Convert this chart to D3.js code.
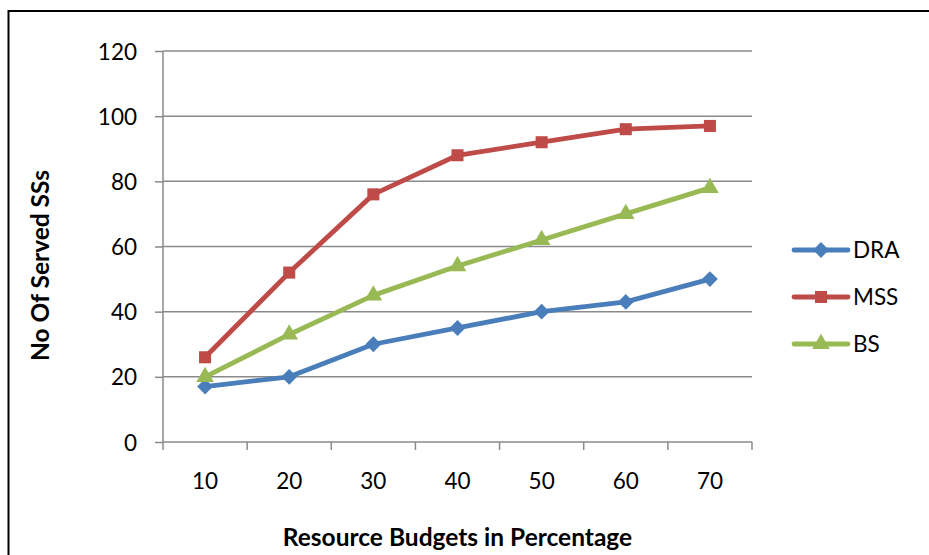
<!DOCTYPE html>
<html>
<head>
<meta charset="utf-8">
<script src="https://cdn.jsdelivr.net/npm/d3@7"></script>
<style>
  body { margin: 0; background: #fff; }
  svg text { font-family: Lato, "Open Sans", sans-serif; fill: #000; }
</style>
</head>
<body>
<div id="app"></div>
<script>
`use strict`;

const budgets = [10, 20, 30, 40, 50, 60, 70];
const yTicks = [0, 20, 40, 60, 80, 100, 120];

const dra = [17, 20, 30, 35, 40, 43, 50];
const mss = [26, 52, 76, 88, 92, 96, 97];
const bs = [20, 33, 45, 54, 62, 70, 78];

const seriesNames = [`DRA`, `MSS`, `BS`];

const W = 929, H = 555;
const plot = {left: 163, right: 752, top: 51, bottom: 442};

const series = [
  {name: seriesNames[0], values: dra, color: `#4A7EBB`, shape: d3.symbolDiamond2 || d3.symbolDiamond, size: 160},
  {name: seriesNames[1], values: mss, color: `#BE4B48`, shape: d3.symbolSquare, size: 145},
  {name: seriesNames[2], values: bs, color: `#98B954`, shape: d3.symbolTriangle, size: 135}
];

let svg = d3.select(`#app`).append(`svg`).attr(`width`, W).attr(`height`, H);

// frame
svg.append(`rect`).attr(`x`, 8.5).attr(`y`, 11).attr(`width`, W + 20).attr(`height`, H + 20)
  .attr(`fill`, `none`).attr(`stroke`, `#000`).attr(`stroke-width`, 2);

let x = d3.scaleBand().domain(budgets).range([plot.left, plot.right]);
let y = d3.scaleLinear().domain([0, 120]).range([plot.bottom, plot.top]);

// gridlines
svg.append(`g`).selectAll(`line`).data(yTicks.filter(t => t > 0)).enter().append(`line`)
  .attr(`x1`, plot.left).attr(`x2`, plot.right)
  .attr(`y1`, d => y(d)).attr(`y2`, d => y(d))
  .attr(`stroke`, `#8A8A8A`).attr(`stroke-width`, 1.5);

// y axis
let yAxis = svg.append(`g`).attr(`transform`, `translate(${plot.left},0)`)
  .call(d3.axisLeft(y).tickValues(yTicks).tickSize(8).tickPadding(18));
yAxis.select(`.domain`).attr(`stroke`, `#8A8A8A`).attr(`stroke-width`, 1.5).attr(`d`, `M0,${plot.top}V${plot.bottom}`);
yAxis.selectAll(`.tick line`).attr(`stroke`, `#8A8A8A`).attr(`stroke-width`, 1.5);
yAxis.selectAll(`text`).attr(`font-size`, `22.5px`).attr(`font-family`, `Lato, sans-serif`).attr(`fill`, `#000`).attr(`dy`, `0.36em`);

// x axis
let xAxis = svg.append(`g`).attr(`transform`, `translate(0,${plot.bottom})`)
  .call(d3.axisBottom(x).tickSize(0).tickPadding(31));
xAxis.select(`.domain`).attr(`stroke`, `#8A8A8A`).attr(`stroke-width`, 1.5).attr(`d`, `M${plot.left},0H${plot.right}`);
xAxis.selectAll(`text`).attr(`font-size`, `22.5px`).attr(`font-family`, `Lato, sans-serif`).attr(`fill`, `#000`);

let bounds = budgets.map(b => x(b)).concat([plot.right]);
xAxis.selectAll(`.bound`).data(bounds).enter().append(`line`).attr(`class`, `bound`)
  .attr(`x1`, d => d).attr(`x2`, d => d).attr(`y1`, 0).attr(`y2`, 8)
  .attr(`stroke`, `#8A8A8A`).attr(`stroke-width`, 1.5);

// axis titles
svg.append(`text`).attr(`x`, (plot.left + plot.right) / 2).attr(`y`, 546)
  .attr(`text-anchor`, `middle`).attr(`font-size`, `24.5px`).attr(`font-weight`, `bold`)
  .text(`Resource Budgets in Percentage`);

svg.append(`text`).attr(`transform`, `translate(49,${(plot.top + plot.bottom) / 2 + 19}) rotate(-90)`)
  .attr(`text-anchor`, `middle`).attr(`font-size`, `24.5px`).attr(`font-weight`, `bold`)
  .text(`No Of Served SSs`);

// series
let line = d3.line().x((d, i) => x(budgets[i]) + x.bandwidth() / 2).y(d => y(d));

series.forEach(S => {
  let g = svg.append(`g`);
  g.append(`path`).attr(`d`, line(S.values)).attr(`fill`, `none`)
    .attr(`stroke`, S.color).attr(`stroke-width`, 4.8).attr(`stroke-linejoin`, `round`);
  g.selectAll(`path.mk`).data(S.values).enter().append(`path`).attr(`class`, `mk`)
    .attr(`d`, d3.symbol().type(S.shape).size(S.size))
    .attr(`transform`, (d, i) => `translate(${x(budgets[i]) + x.bandwidth() / 2},${y(d)})`)
    .attr(`fill`, S.color);
});

// legend
let legendY = [250, 297, 344];
let legend = svg.append(`g`).selectAll(`g`).data(series).enter().append(`g`)
  .attr(`transform`, (S, i) => `translate(794,${legendY[i]})`);
legend.append(`line`).attr(`x1`, 0).attr(`x2`, 54).attr(`stroke`, S => S.color)
  .attr(`stroke-width`, 4.8).attr(`stroke-linecap`, `round`);
legend.append(`path`).attr(`d`, S => d3.symbol().type(S.shape).size(S.size)())
  .attr(`transform`, `translate(27,0)`).attr(`fill`, S => S.color);
legend.append(`text`).attr(`x`, 59).attr(`dy`, `0.36em`).attr(`font-size`, `22.5px`).text(S => S.name);
</script>
</body>
</html>
